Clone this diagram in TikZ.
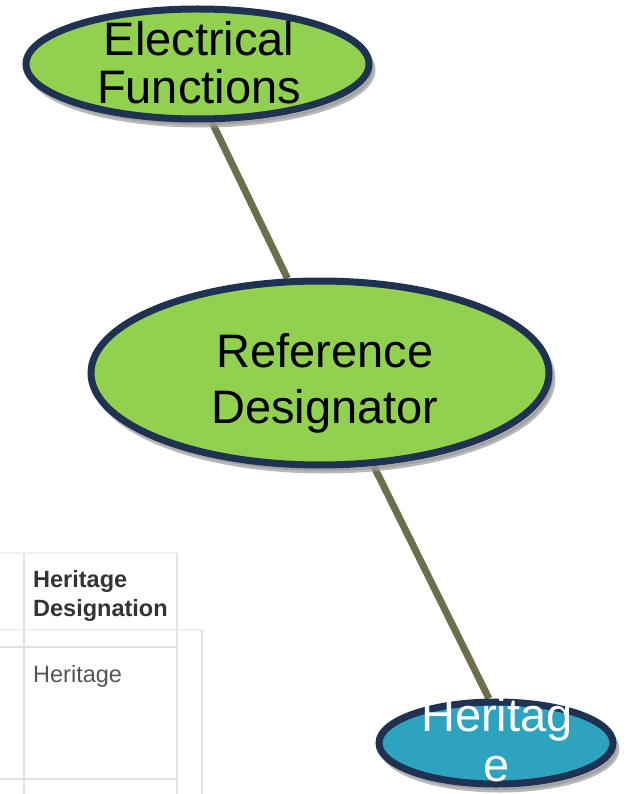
\documentclass[tikz,border=0pt]{standalone}
\usepackage{fontspec}
\setmainfont{Liberation Sans}
\usetikzlibrary{shapes.geometric,shadows,backgrounds}
\definecolor{nodegreen}{HTML}{92D050}
\definecolor{nodeteal}{HTML}{2DA3C0}
\definecolor{navyborder}{HTML}{1F3251}
\definecolor{linkolive}{HTML}{6E6E4C}
\definecolor{gridgray}{HTML}{E2E2E2}
\definecolor{gridfaint}{HTML}{F0F0F0}
\definecolor{headtext}{HTML}{333333}
\definecolor{celltext}{HTML}{555555}
\definecolor{shadowgray}{HTML}{9A9A9A}
\begin{document}
\begin{tikzpicture}[x=1pt,y=-1pt,
  bubble/.style={ellipse, draw=navyborder, line width=7pt, inner sep=0pt,
    drop shadow={shadow xshift=4pt, shadow yshift=-6pt, fill=shadowgray, draw=shadowgray, line width=5pt, opacity=0.7}},
  bubbletext/.style={align=center, inner sep=0pt},
  link/.style={draw=linkolive, line width=7pt},
  gridline/.style={draw=gridgray, line width=1.5pt},
  faintline/.style={draw=gridfaint, line width=1.5pt},
  headcell/.style={anchor=base west, inner sep=0pt, text=headtext, font=\fontsize{23.5}{29}\selectfont\bfseries},
  bodycell/.style={anchor=base west, inner sep=0pt, text=celltext, font=\fontsize{23.5}{29}\selectfont},
]
\useasboundingbox (0,0) rectangle (628,794);

% bubbles
\node[bubble, fill=nodegreen, minimum width=343pt, minimum height=110pt] (ef) at (197.5,64) {};
\node[bubbletext, font=\fontsize{47}{48}\selectfont] (efT) at (199,63) {Electrical\\Functions};
\node[bubble, fill=nodegreen, minimum width=458pt, minimum height=184pt] (rd) at (320,373) {};
\node[bubbletext, font=\fontsize{47}{56}\selectfont] (rdT) at (325,383) {Reference\\Designator};
\node[bubble, fill=nodeteal, minimum width=234pt, minimum height=82pt] (he) at (496,743) {};
\node[bubbletext, text=white, font=\fontsize{47}{50}\selectfont] (heT) at (497,740) {Heritag\\e};

\begin{pgfonlayer}{background}
\fill[white] (0,0) rectangle (628,794);
% table fragment
\draw[faintline] (0,553) -- (177,553);
\draw[faintline] (0,630) -- (202,630);
\draw[gridline] (24,553) -- (24,794);
\draw[gridline] (177,553) -- (177,794);
\draw[gridline] (202,630) -- (202,794);
\draw[gridline] (0,647) -- (177,647);
\draw[gridline] (0,779) -- (177,779);
\node[headcell] (th1) at (33,587) {Heritage};
\node[headcell] (th2) at (33,616) {Designation};
\node[bodycell] (td1) at (33,682) {Heritage};
% connectors
\draw[link] (ef.-76) -- (rd.109);
\draw[link] (rd.-60) -- (he.99.5);
\end{pgfonlayer}
\end{tikzpicture}
\end{document}
